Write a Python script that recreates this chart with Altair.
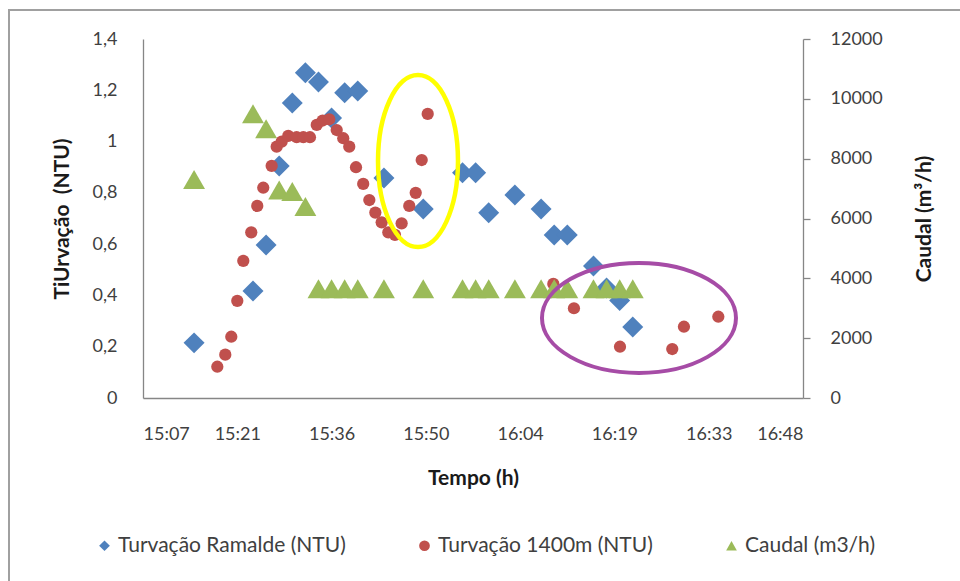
import altair as alt
import pandas as pd

# Sampling times (h:m[:s]) and readings
ramalde_time = ["15:15", "15:24", "15:26", "15:28", "15:30", "15:32", "15:34", "15:36",
                "15:38", "15:40", "15:44", "15:50", "15:56", "15:58", "16:00", "16:04",
                "16:08", "16:10", "16:12", "16:16", "16:18", "16:20", "16:22"]
ramalde_ntu = [0.215, 0.417, 0.597, 0.905, 1.15, 1.268, 1.232, 1.092,
               1.19, 1.197, 0.858, 0.737, 0.878, 0.878, 0.722, 0.792,
               0.737, 0.636, 0.636, 0.515, 0.429, 0.38, 0.277]
caudal_m3h = [7300, 9500, 9000, 6950, 6900, 6400, 3650, 3650,
              3650, 3650, 3650, 3650, 3650, 3650, 3650, 3650,
              3650, 3650, 3650, 3650, 3650, 3650, 3650]

t1400_time = ["15:18:33", "15:19:46", "15:20:41", "15:21:36", "15:22:31", "15:23:44",
              "15:24:39", "15:25:34", "15:26:51", "15:27:37", "15:28:23", "15:29:23",
              "15:30:40", "15:31:41", "15:32:42", "15:33:44", "15:34:38", "15:35:39",
              "15:36:47", "15:37:47", "15:38:42", "15:39:44", "15:40:50", "15:41:46",
              "15:42:41", "15:43:39", "15:44:40", "15:45:41", "15:46:42", "15:47:52",
              "15:48:51", "15:49:46", "15:50:41", "16:09:52", "16:13:01", "16:20:03",
              "16:28:02", "16:29:49", "16:35:04"]
t1400_ntu = [0.122, 0.169, 0.239, 0.379, 0.535, 0.646, 0.749, 0.82, 0.905, 0.98,
             1.0, 1.022, 1.017, 1.017, 1.017, 1.065, 1.082, 1.087, 1.045, 1.013,
             0.98, 0.9, 0.835, 0.772, 0.723, 0.685, 0.646, 0.636, 0.681, 0.749,
             0.80, 0.928, 1.108, 0.445, 0.35, 0.2, 0.191, 0.278, 0.317]

series_names = ["Turvação Ramalde (NTU)", "Turvação 1400m (NTU)", "Caudal (m3/h)"]
series_colors = ["#4F81BD", "#C0504D", "#9BBB59"]
series_shapes = ["diamond", "circle", "triangle-up"]

# Highlighted regions (centre time, centre turbidity)
highlight_time = ["15:49:12", "16:22:57"]
highlight_ntu = [0.924, 0.312]
highlight_color = ["#FFFF00", "#A64CA6"]


def to_minutes(s):
    p = [int(v) for v in s.split(":")]
    return p[0] * 60 + p[1] + (p[2] / 60 if len(p) > 2 else 0)


turb = pd.concat([
    pd.DataFrame({"t": [to_minutes(s) for s in ramalde_time], "v": ramalde_ntu,
                  "serie": series_names[0]}),
    pd.DataFrame({"t": [to_minutes(s) for s in t1400_time], "v": t1400_ntu,
                  "serie": series_names[1]}),
], ignore_index=True)
caudal = pd.DataFrame({"t": [to_minutes(s) for s in ramalde_time], "v": caudal_m3h,
                       "serie": series_names[2]})
marks_df = pd.DataFrame({"t": [to_minutes(s) for s in highlight_time], "v": highlight_ntu,
                         "c": highlight_color})

FONT = "Lato"
x_ticks = [907.2 + 14.4 * i for i in range(8)]  # 0.63 .. 0.70 of a day
x_label = ("floor(datum.value / 60) + ':' + (floor(datum.value % 60) < 10 ? '0' : '') + "
           "floor(datum.value % 60)")

x_enc = alt.X("t:Q", scale=alt.Scale(domain=[907.2, 1008], nice=False, zero=False),
              axis=alt.Axis(values=x_ticks, labelExpr=x_label, ticks=False, tickSize=0,
                            labelPadding=27, title="Tempo (h)", titleY=80,
                            titleBaseline="middle", grid=False))

color_enc = alt.Color("serie:N", scale=alt.Scale(domain=series_names, range=series_colors),
                      legend=alt.Legend(title=None, orient="none", direction="horizontal",
                                        columns=3, legendX=-49, legendY=496,
                                        symbolSize=115, columnPadding=68, labelFontSize=21,
                                        labelFont=FONT, labelColor="#404040", labelLimit=0,
                                        symbolStrokeWidth=0, labelOffset=3))
shape_enc = alt.Shape("serie:N", scale=alt.Scale(domain=series_names, range=series_shapes))

ntu_scale = alt.Scale(domain=[0, 1.4], nice=False)
y_left = alt.Y("v:Q", scale=ntu_scale,
               axis=alt.Axis(values=[0, 0.2, 0.4, 0.6, 0.8, 1.0, 1.2, 1.4],
                             labelExpr="replace(format(datum.value, '.1~f'), '.', ',')",
                             ticks=False, tickSize=0, labelPadding=26, grid=False,
                             title="TiUrvação\u00a0\u00a0(NTU)", titleX=-81,
                             titleBaseline="middle"))
y_right = alt.Y("v:Q", scale=alt.Scale(domain=[0, 12000], nice=False),
                axis=alt.Axis(orient="right", values=list(range(0, 12001, 2000)), format="d",
                              ticks=True, tickSize=7, labelPadding=20, grid=False,
                              title="Caudal (m³/h)", titleX=121, titleAngle=270,
                              titleBaseline="middle"))

ramalde_layer = alt.Chart(turb).transform_filter(
    alt.datum.serie == series_names[0]).mark_point(filled=True, size=440, opacity=1).encode(
    x=x_enc, y=y_left, color=color_enc, shape=shape_enc)
t1400_layer = alt.Chart(turb).transform_filter(
    alt.datum.serie == series_names[1]).mark_point(filled=True, size=150, opacity=1).encode(
    x=x_enc, y=y_left, color=color_enc, shape=shape_enc)

caudal_layer = alt.Chart(caudal).mark_point(filled=True, size=480, opacity=1).encode(
    x=x_enc, y=y_right, color=color_enc, shape=shape_enc)

# Ellipses outlining the two regions, on the turbidity scale
ellipse_paths = [
    ("M -0.465 0 A 0.465 1 0 1 0 0.465 0 A 0.465 1 0 1 0 -0.465 0 Z", 29584, 4.5),
    ("M -1 0 A 1 0.567 0 1 0 1 0 A 1 0.567 0 1 0 -1 0 Z", 37636, 4),
]
ellipse_layers = []
for i, (path, sz, sw) in enumerate(ellipse_paths):
    ellipse_layers.append(
        alt.Chart(marks_df.iloc[[i]]).mark_point(shape=path, size=sz, filled=False,
                                                  strokeWidth=sw, opacity=1).encode(
            x=x_enc, y=alt.Y("v:Q", scale=ntu_scale, axis=None),
            stroke=alt.Stroke("c:N", scale=None)))

left = alt.layer(ramalde_layer, t1400_layer)

frame_v = alt.Chart(pd.DataFrame({"k": [0]})).mark_rule(color="#A0A0A0", strokeWidth=2).encode(
    x=alt.value(-134), y=alt.value(-29), y2=alt.value(545))
frame_h = alt.Chart(pd.DataFrame({"k": [0]})).mark_rule(color="#A0A0A0", strokeWidth=2).encode(
    x=alt.value(-135), x2=alt.value(820), y=alt.value(-29))

chart = alt.layer(left, caudal_layer, *ellipse_layers, frame_v, frame_h).resolve_scale(
    y="independent"
).properties(
    width=660, height=359,
    padding={"left": 143, "top": 39, "right": 157, "bottom": 183},
    autosize=alt.AutoSizeParams(type="none"),
    background="white",
).configure_view(stroke=None).configure_axis(
    domainColor="#868686", domainWidth=1.3, tickColor="#868686", tickWidth=1.3,
    labelFont=FONT, labelFontSize=18, labelColor="#404040",
    titleFont=FONT, titleFontSize=21, titleFontWeight="bold", titleColor="#1a1a1a",
)

chart.save("out.html", embed_options={"renderer": "svg", "actions": False})
